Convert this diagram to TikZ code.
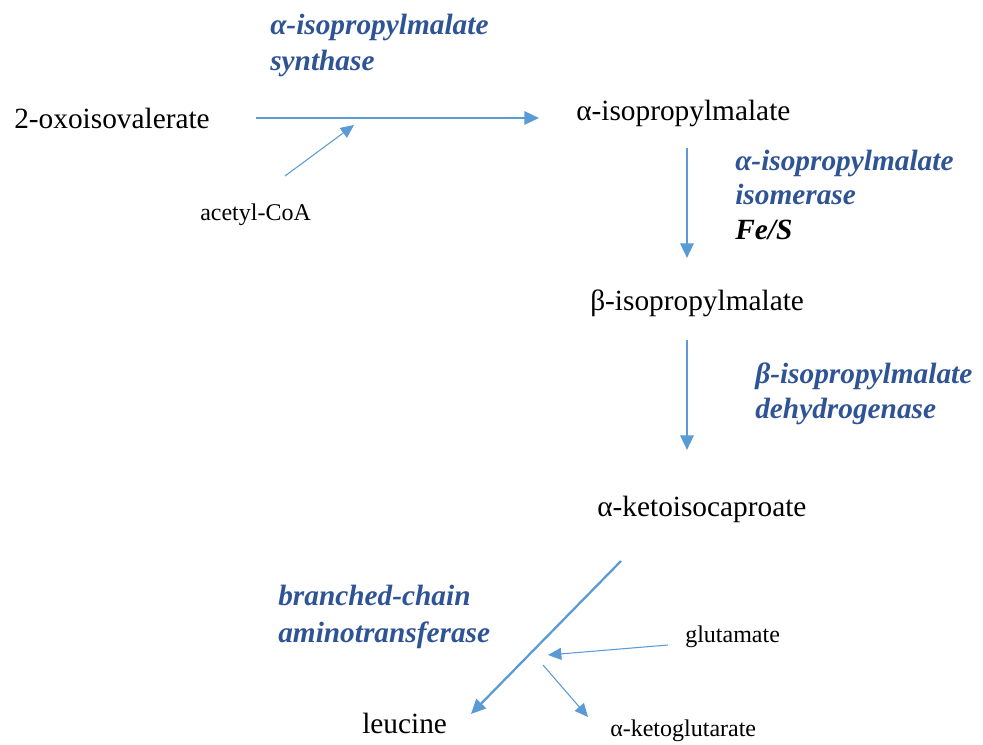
\documentclass[tikz,border=0pt]{standalone}
\usepackage{fontspec}
\setmainfont{Liberation Serif}
\usetikzlibrary{arrows.meta}
\definecolor{flow}{HTML}{5B9BD5}
\definecolor{enzyme}{HTML}{2F5496}
\begin{document}
\begin{tikzpicture}[x=0.75pt,y=-0.75pt,
  metab/.style={anchor=base west,inner sep=0pt,font=\fontsize{22}{26}\selectfont},
  cofac/.style={anchor=base west,inner sep=0pt,font=\fontsize{18}{22}\selectfont},
  enz/.style={anchor=base west,inner sep=0pt,text=enzyme,font=\fontsize{22}{26}\selectfont\bfseries\itshape},
  mainarrow/.style={draw=flow,line width=1.7pt,-{Triangle[length=11pt,width=10pt]}},
  sidearrow/.style={draw=flow,line width=0.8pt,-{Triangle[length=10pt,width=9pt]}}]
\useasboundingbox (0,0) rectangle (983,745);

% metabolites
\node[metab] (oxo) at (14,129) {2-oxoisovalerate};
\node[metab] (aipm) at (576,121) {α-isopropylmalate};
\node[metab] (bipm) at (590,311) {β-isopropylmalate};
\node[metab] (kic) at (597,517) {α-ketoisocaproate};
\node[metab] (leu) at (362,733) {leucine};

% co-substrates
\node[cofac] (acoa) at (200,221) {acetyl-CoA};
\node[cofac] (glu) at (685,642) {glutamate};
\node[cofac] (akg) at (610,736) {α-ketoglutarate};

% enzymes
\node[enz] (e1a) at (270,35) {α-isopropylmalate};
\node[enz] (e1b) at (270,71) {synthase};
\node[enz] (e2a) at (735,171) {α-isopropylmalate};
\node[enz] (e2b) at (735,205) {isomerase};
\node[enz,text=black] (e2c) at (735,240) {Fe/S};
\node[enz] (e3a) at (755,384) {β-isopropylmalate};
\node[enz] (e3b) at (755,419) {dehydrogenase};
\node[enz] (e4a) at (278,605) {branched-chain};
\node[enz] (e4b) at (278,642) {aminotransferase};

% arrow end points
\coordinate (s1) at (256,118);
\coordinate (t1) at (539,118);
\coordinate (ca) at (285,176);
\coordinate (cb) at (354,125);
\coordinate (s2) at (687,148);
\coordinate (t2) at (687,258);
\coordinate (s3) at (687,340);
\coordinate (t3) at (687,450);
\coordinate (s4) at (621,561);
\coordinate (t4) at (471,714);
\coordinate (ga) at (668,645);
\coordinate (gb) at (548,655);
\coordinate (ka) at (543,665);
\coordinate (kb) at (588,717);

% reaction arrows
\draw[mainarrow] (s1) -- (t1);
\draw[sidearrow] (ca) -- (cb);
\draw[mainarrow] (s2) -- (t2);
\draw[mainarrow] (s3) -- (t3);
\draw[mainarrow] (s4) -- (t4);
\draw[sidearrow] (ga) -- (gb);
\draw[sidearrow] (ka) -- (kb);
\end{tikzpicture}
\end{document}
